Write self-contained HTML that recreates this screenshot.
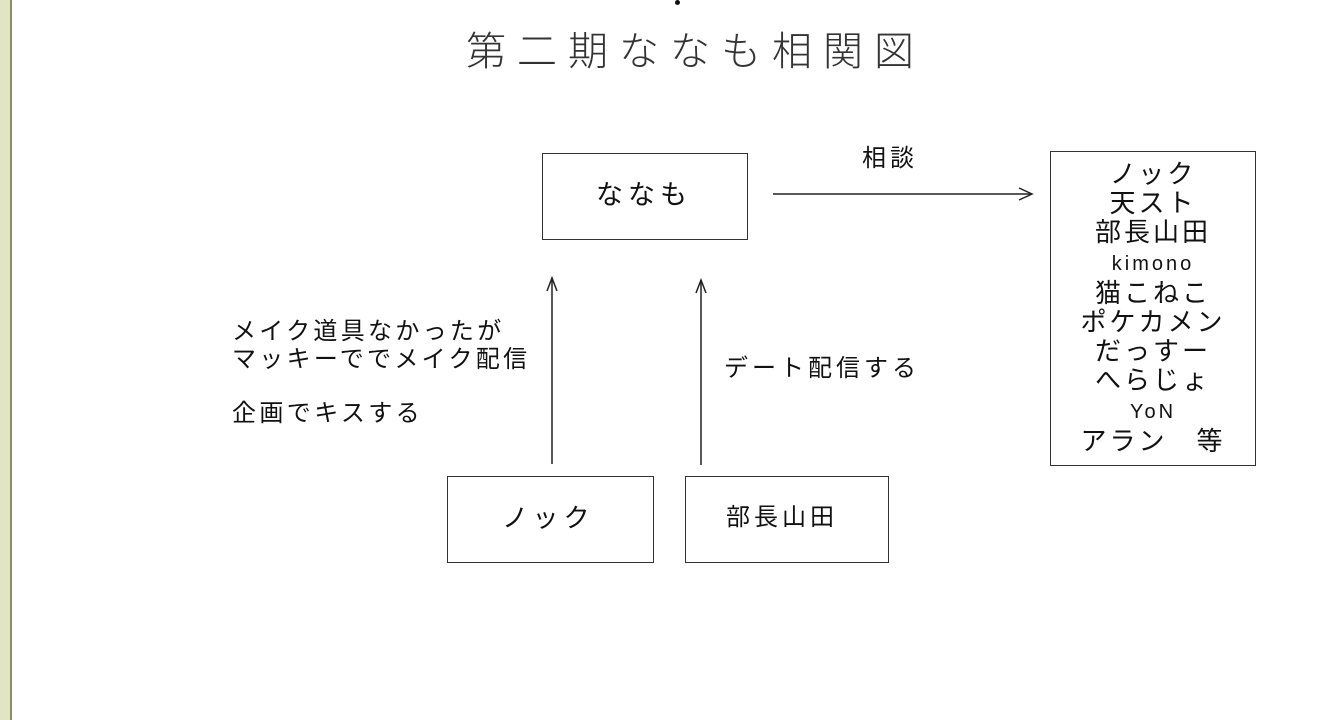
<!DOCTYPE html>
<html><head><meta charset="utf-8"><style>
body{margin:0;width:1339px;height:720px;background:#fff;position:relative;overflow:hidden;font-family:"Liberation Sans","Noto Sans CJK JP",sans-serif;color:#111}
.t{position:absolute;white-space:nowrap;line-height:1}
.box{position:absolute;border:1.5px solid #333;box-sizing:border-box}
</style></head><body>
<div style="position:absolute;left:0;top:0;width:10px;height:720px;background:#e1e5c3;border-right:2px solid #8a8c70"></div>
<div style="position:absolute;left:675px;top:0;width:5px;height:5px;border-radius:50%;background:#111"></div>
<div class="t" style="left:466px;top:32px;font-size:40px;letter-spacing:11px;font-weight:300;color:#333">第二期ななも相関図</div>
<div class="box" style="left:542px;top:153px;width:206px;height:87px"></div>
<div class="t" style="left:596px;top:182px;font-size:27px;letter-spacing:5px">ななも</div>
<div class="box" style="left:1050px;top:151px;width:206px;height:315px"></div>
<div style="position:absolute;left:1050px;top:160px;width:206px;text-align:center;font-size:26px;line-height:29px;letter-spacing:3px">ノック<br>天スト<br>部長山田<br><span style="font-size:20px">kimono</span><br>猫こねこ<br>ポケカメン<br>だっすー<br>へらじょ<br><span style="font-size:20px">YoN</span><br>アラン　等</div>
<div class="box" style="left:447px;top:476px;width:207px;height:87px"></div>
<div class="t" style="left:502px;top:505px;font-size:26px;letter-spacing:5px">ノック</div>
<div class="box" style="left:685px;top:476px;width:204px;height:87px"></div>
<div class="t" style="left:726px;top:506px;font-size:24px;letter-spacing:4px">部長山田</div>
<div class="t" style="left:862px;top:147px;font-size:24px;letter-spacing:4px">相談</div>
<div class="t" style="left:232px;top:318px;font-size:24px;line-height:28px;letter-spacing:3.3px">メイク道具なかったが<br>マッキーででメイク配信</div>
<div class="t" style="left:232px;top:402px;font-size:24px;letter-spacing:3.4px">企画でキスする</div>
<div class="t" style="left:724px;top:357px;font-size:24px;letter-spacing:4px">デート配信する</div>
<svg width="1339" height="720" style="position:absolute;left:0;top:0" fill="none" stroke="#222" stroke-width="1.5">
<line x1="773" y1="194" x2="1031" y2="194"/><polyline points="1019,188 1032,194 1019,200"/>
<line x1="552" y1="464" x2="552" y2="278"/><polyline points="547,291 552,278 557,291"/>
<line x1="701" y1="465" x2="701" y2="280"/><polyline points="696,293 701,280 706,293"/>
</svg>
</body></html>
